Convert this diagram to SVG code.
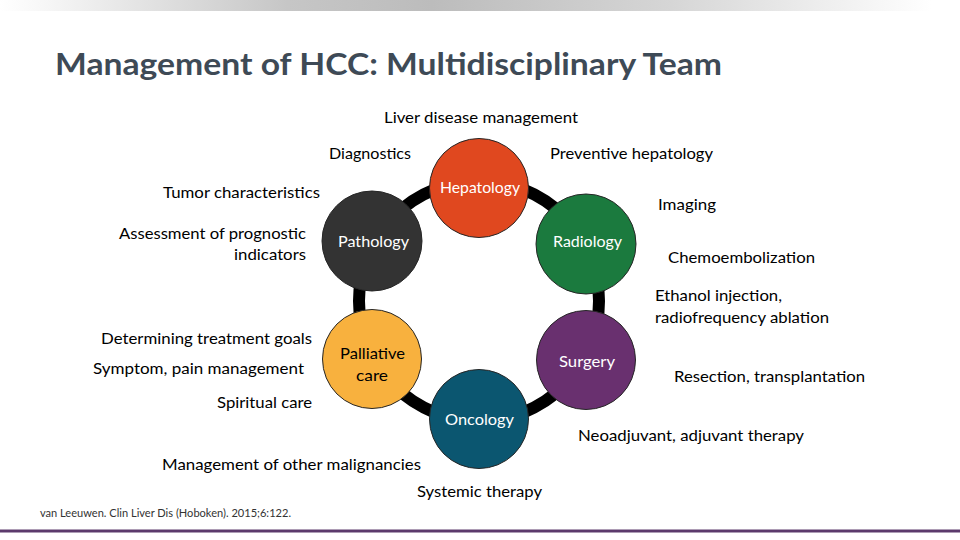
<svg xmlns="http://www.w3.org/2000/svg" width="960" height="540" viewBox="0 0 960 540">
<defs>
<linearGradient id="topbar" x1="0" y1="0" x2="1" y2="0">
<stop offset="0" stop-color="#ffffff"/>
<stop offset="0.05" stop-color="#f6f6f6"/>
<stop offset="0.3" stop-color="#c6c6c6"/>
<stop offset="0.45" stop-color="#bcbcbc"/>
<stop offset="0.7" stop-color="#d6d6d6"/>
<stop offset="0.97" stop-color="#ffffff"/>
</linearGradient>
<style>
.t{font-family:Lato,"Open Sans","Liberation Sans",sans-serif;font-size:16px;fill:#000}
.c{font-family:Lato,"Open Sans","Liberation Sans",sans-serif;font-size:16px;fill:#ffffff}
.node circle{stroke:#262626;stroke-width:1}
</style>
</defs>
<rect x="0" y="0" width="960" height="540" fill="#ffffff"/>
<rect x="0" y="0" width="960" height="11" fill="url(#topbar)"/>
<text x="55" y="75" font-family="Lato,'Open Sans','Liberation Sans',sans-serif" font-size="31" font-weight="bold" fill="#3e4a56" textLength="667" lengthAdjust="spacingAndGlyphs">Management of HCC: Multidisciplinary Team</text>

<g id="connectors">
<circle cx="479" cy="301" r="120" fill="none" stroke="#000000" stroke-width="12"/>
</g>

<g id="hepatology" class="node"><circle cx="479" cy="188" r="49.5" fill="#e0481f"/><text class="c" x="440" y="193" textLength="80" lengthAdjust="spacingAndGlyphs">Hepatology</text></g>
<g id="pathology" class="node"><circle cx="372" cy="241" r="50" fill="#333333"/><text class="c" x="338" y="247" textLength="71" lengthAdjust="spacingAndGlyphs">Pathology</text></g>
<g id="radiology" class="node"><circle cx="586" cy="244" r="50" fill="#1b7a3e"/><text class="c" x="553" y="247" textLength="69" lengthAdjust="spacingAndGlyphs">Radiology</text></g>
<g id="palliative" class="node"><circle cx="372" cy="359" r="49.5" fill="#f8b13e"/><text class="t" x="340" y="359" textLength="65" lengthAdjust="spacingAndGlyphs" fill="#1a1a1a">Palliative</text><text class="t" x="356" y="381" textLength="32" lengthAdjust="spacingAndGlyphs">care</text></g>
<g id="surgery" class="node"><circle cx="586" cy="360" r="49.5" fill="#69306f"/><text class="c" x="559" y="367" textLength="56" lengthAdjust="spacingAndGlyphs">Surgery</text></g>
<g id="oncology" class="node"><circle cx="479" cy="419" r="49.5" fill="#0b5670"/><text class="c" x="445" y="425" textLength="69" lengthAdjust="spacingAndGlyphs">Oncology</text></g>

<g id="labels">
<text class="t" x="384" y="123" textLength="194" lengthAdjust="spacingAndGlyphs">Liver disease management</text>
<text class="t" x="329" y="159" textLength="82" lengthAdjust="spacingAndGlyphs">Diagnostics</text>
<text class="t" x="550" y="159" textLength="163" lengthAdjust="spacingAndGlyphs">Preventive hepatology</text>
<text class="t" x="163" y="198" textLength="157" lengthAdjust="spacingAndGlyphs">Tumor characteristics</text>
<text class="t" x="658" y="210" textLength="58" lengthAdjust="spacingAndGlyphs">Imaging</text>
<text class="t" x="119" y="239" textLength="187" lengthAdjust="spacingAndGlyphs">Assessment of prognostic</text>
<text class="t" x="234" y="260" textLength="72" lengthAdjust="spacingAndGlyphs">indicators</text>
<text class="t" x="668" y="263" textLength="147" lengthAdjust="spacingAndGlyphs">Chemoembolization</text>
<text class="t" x="655" y="301" textLength="127" lengthAdjust="spacingAndGlyphs">Ethanol injection,</text>
<text class="t" x="655" y="323" textLength="174" lengthAdjust="spacingAndGlyphs">radiofrequency ablation</text>
<text class="t" x="101" y="344" textLength="211" lengthAdjust="spacingAndGlyphs">Determining treatment goals</text>
<text class="t" x="93" y="374" textLength="211" lengthAdjust="spacingAndGlyphs">Symptom, pain management</text>
<text class="t" x="674" y="382" textLength="191" lengthAdjust="spacingAndGlyphs">Resection, transplantation</text>
<text class="t" x="217" y="408" textLength="95" lengthAdjust="spacingAndGlyphs">Spiritual care</text>
<text class="t" x="578" y="441" textLength="226" lengthAdjust="spacingAndGlyphs">Neoadjuvant, adjuvant therapy</text>
<text class="t" x="162" y="470" textLength="259" lengthAdjust="spacingAndGlyphs">Management of other malignancies</text>
<text class="t" x="417" y="497" textLength="125" lengthAdjust="spacingAndGlyphs">Systemic therapy</text>
<text x="40" y="517" font-family="Lato,'Open Sans','Liberation Sans',sans-serif" font-size="10.5" fill="#333333" textLength="251" lengthAdjust="spacingAndGlyphs">van Leeuwen. Clin Liver Dis (Hoboken). 2015;6:122.</text>
</g>
<rect x="0" y="529.5" width="960" height="3" fill="#5c3a6c"/>
</svg>
